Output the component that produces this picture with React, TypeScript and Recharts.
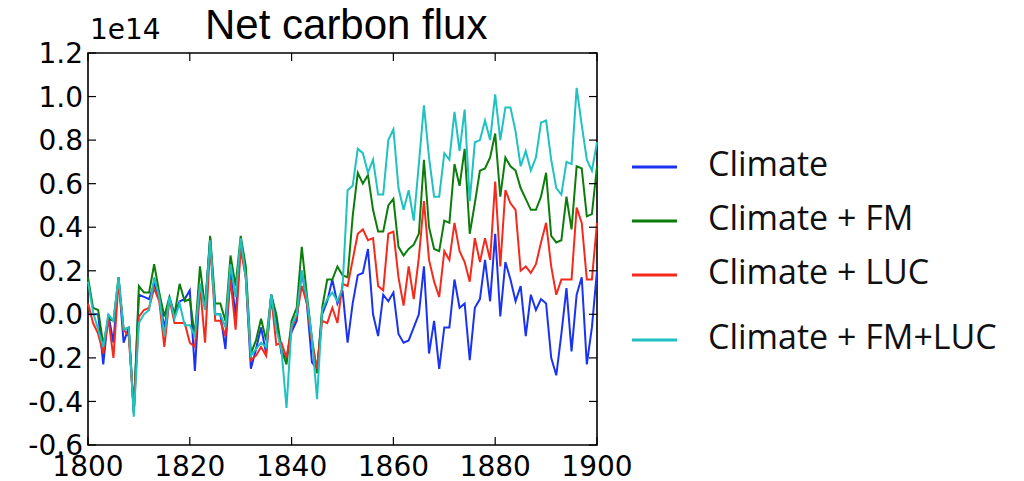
import { LineChart, Line, XAxis, YAxis, ReferenceArea, Legend } from "recharts";

// net carbon flux, units of 1e14, one value per year 1800..1900
const years = Array.from({ length: 101 }, (_, i) => 1800 + i);

const climate = [
  0.0, 0.0, 0.0, -0.23, 0.0, -0.13, 0.17, -0.13, -0.06, -0.45,
  0.09, 0.08, 0.07, 0.14, 0.07, -0.06, 0.07, 0.0, 0.06, 0.07,
  0.11, -0.26, 0.14, 0.03, 0.35, 0.0, 0.0, -0.16, 0.2, -0.01,
  0.33, 0.17, -0.25, -0.16, -0.06, -0.18, 0.09, -0.02, -0.18, -0.2,
  -0.08, -0.03, 0.2, 0.05, -0.22, -0.25, 0.0, 0.06, 0.16, 0.05,
  0.11, -0.13, 0.05, 0.18, 0.19, 0.3, 0.0, -0.1, 0.09, 0.06,
  0.1, -0.09, -0.13, -0.12, -0.06, 0.0, 0.22, -0.18, -0.03, -0.25,
  -0.06, -0.06, 0.16, 0.03, 0.05, -0.21, 0.03, 0.07, 0.25, 0.06,
  0.37, -0.01, 0.24, 0.16, 0.06, 0.13, -0.1, 0.09, 0.02, 0.07,
  0.05, -0.2, -0.28, -0.09, 0.12, -0.17, 0.09, 0.17, -0.23, -0.06,
  0.2,
];

const climateFM = [
  0.17, 0.03, 0.02, -0.14, -0.02, -0.03, 0.17, -0.07, -0.06, -0.45,
  0.13, 0.1, 0.1, 0.23, 0.1, -0.01, 0.08, 0.0, 0.14, 0.06,
  0.07, -0.1, 0.22, 0.03, 0.36, 0.05, 0.05, -0.03, 0.27, 0.13,
  0.36, 0.22, -0.18, -0.12, -0.02, -0.12, 0.09, 0.0, -0.16, -0.23,
  -0.03, 0.03, 0.31, 0.09, -0.11, -0.27, 0.03, 0.16, 0.16, 0.22,
  0.18, 0.17, 0.45, 0.65, 0.6, 0.64, 0.48, 0.38, 0.38, 0.5,
  0.53, 0.31, 0.27, 0.3, 0.32, 0.37, 0.71, 0.4, 0.3, 0.29,
  0.43, 0.42, 0.69, 0.59, 0.76, 0.37, 0.51, 0.66, 0.67, 0.72,
  0.83, 0.54, 0.72, 0.68, 0.66, 0.58, 0.53, 0.48, 0.48, 0.54,
  0.65, 0.36, 0.33, 0.34, 0.54, 0.39, 0.68, 0.67, 0.45, 0.46,
  0.68,
];

const climateLUC = [
  0.05, -0.04, -0.09, -0.18, -0.02, -0.2, 0.15, -0.07, -0.1, -0.44,
  -0.01, 0.02, 0.03, 0.12, 0.06, -0.15, 0.07, -0.04, -0.04, -0.04,
  -0.13, -0.15, 0.13, -0.13, 0.32, -0.03, -0.03, -0.1, 0.16, -0.07,
  0.3, 0.17, -0.21, -0.19, -0.15, -0.19, 0.08, -0.14, -0.13, -0.2,
  -0.06, -0.01, 0.13, 0.05, -0.13, -0.25, -0.03, -0.04, 0.03, -0.04,
  0.14, 0.13, 0.25, 0.37, 0.39, 0.34, 0.35, 0.13, 0.11, 0.37,
  0.38, 0.17, 0.04, 0.22, 0.07, 0.26, 0.52, 0.25, 0.15, 0.08,
  0.29, 0.25, 0.42, 0.29, 0.24, 0.15, 0.35, 0.24, 0.35, 0.25,
  0.61, 0.22, 0.57, 0.51, 0.48, 0.2, 0.22, 0.19, 0.23, 0.33,
  0.42, 0.22, 0.09, 0.16, 0.16, 0.16, 0.49, 0.42, 0.16, 0.16,
  0.42,
];

const climateFMLUC = [
  0.15, 0.01, -0.07, -0.15, 0.0, -0.03, 0.17, -0.07, -0.06, -0.47,
  -0.04, 0.0, 0.02, 0.17, 0.08, -0.1, 0.08, -0.02, 0.05, -0.05,
  -0.05, -0.1, 0.14, 0.02, 0.34, 0.0, 0.0, -0.06, 0.23, 0.08,
  0.35, 0.17, -0.19, -0.16, -0.13, -0.15, 0.09, -0.07, -0.16, -0.43,
  -0.05, 0.0, 0.2, 0.07, -0.11, -0.39, 0.02, 0.07, 0.1, 0.06,
  0.12, 0.57, 0.59, 0.76, 0.74, 0.65, 0.71, 0.55, 0.55, 0.8,
  0.85, 0.58, 0.48, 0.57, 0.43, 0.69, 0.96, 0.72, 0.54, 0.54,
  0.74, 0.71, 0.93, 0.75, 0.94, 0.52, 0.79, 0.8, 0.89, 0.8,
  1.01, 0.8, 0.95, 0.95, 0.84, 0.68, 0.75, 0.66, 0.72, 0.88,
  0.89, 0.71, 0.58, 0.55, 0.7, 0.69, 1.04, 0.87, 0.71, 0.66,
  0.79,
];

const xTicks = [1800, 1820, 1840, 1860, 1880, 1900];
const yTicks = [-0.6, -0.4, -0.2, 0, 0.2, 0.4, 0.6, 0.8, 1.0, 1.2];

const series = [
  { key: "climate", name: "Climate", color: "#1a33f0" },
  { key: "climateFM", name: "Climate + FM", color: "#0b7d0b" },
  { key: "climateLUC", name: "Climate + LUC", color: "#f42a1c" },
  { key: "climateFMLUC", name: "Climate + FM+LUC", color: "#1fc1c1" },
];

const rows = years.map((year, i) => ({
  year,
  climate: climate[i],
  climateFM: climateFM[i],
  climateLUC: climateLUC[i],
  climateFMLUC: climateFMLUC[i],
}));

const PLOT_LEFT = 88;
const PLOT_RIGHT = 597;
const PLOT_TOP = 53;
const PLOT_BOTTOM = 445;
const TICK_LEN = 8;
const tickFont = "'DejaVu Sans', sans-serif";

const YTick = (props: any) => {
  const { y, payload } = props;
  return (
    <g>
      <text x={PLOT_LEFT - 5} y={y} dy="0.36em" textAnchor="end" fontFamily={tickFont} fontSize={28} fill="#000">
        {Number(payload.value).toFixed(1)}
      </text>
      <line x1={PLOT_LEFT} x2={PLOT_LEFT + TICK_LEN} y1={y} y2={y} stroke="#000" strokeWidth={1.2} />
      <line x1={PLOT_RIGHT - TICK_LEN} x2={PLOT_RIGHT} y1={y} y2={y} stroke="#000" strokeWidth={1.2} />
    </g>
  );
};

const XTick = (props: any) => {
  const { x, payload } = props;
  return (
    <g>
      <text x={x} y={476} textAnchor="middle" fontFamily={tickFont} fontSize={28} fill="#000">
        {payload.value}
      </text>
      <line x1={x} x2={x} y1={PLOT_BOTTOM} y2={PLOT_BOTTOM - TICK_LEN} stroke="#000" strokeWidth={1.2} />
      <line x1={x} x2={x} y1={PLOT_TOP} y2={PLOT_TOP + TICK_LEN} stroke="#000" strokeWidth={1.2} />
    </g>
  );
};

const renderLegend = (props: any) => {
  const items = [...(props.payload || [])].sort(
    (a: any, b: any) =>
      series.findIndex((s) => s.name === a.value) - series.findIndex((s) => s.name === b.value)
  );
  const lineY = [47, 101, 155, 220];
  return (
    <svg width={404} height={250}>
      {items.map((it: any, i: number) => (
        <g key={it.value}>
          <line x1={12} x2={57} y1={lineY[i]} y2={lineY[i]} stroke={it.color} strokeWidth={3} />
          <text x={88} y={lineY[i] + 9} fontFamily="'Open Sans', sans-serif" fontSize={34} fill="#111">
            {it.value}
          </text>
        </g>
      ))}
    </svg>
  );
};

export default function App() {
  return (
    <div style={{ position: "absolute", left: 0, top: 0, width: 1024, height: 481, background: "#fff" }}>
      <LineChart
        width={1024}
        height={481}
        data={rows}
        margin={{ top: PLOT_TOP, right: 1024 - PLOT_RIGHT, bottom: 0, left: 28 }}
      >
        <XAxis
          dataKey="year"
          type="number"
          domain={[1800, 1900]}
          ticks={xTicks}
          height={481 - PLOT_BOTTOM}
          tick={<XTick />}
          tickLine={false}
          axisLine={false}
          interval={0}
        />
        <YAxis
          type="number"
          domain={[-0.6, 1.2]}
          ticks={yTicks}
          width={PLOT_LEFT - 28}
          tick={<YTick />}
          tickLine={false}
          axisLine={false}
          interval={0}
          allowDataOverflow
        />
        {series.map((s) => (
          <Line
            key={s.key}
            type="linear"
            dataKey={s.key}
            name={s.name}
            stroke={s.color}
            strokeWidth={2}
            dot={false}
            isAnimationActive={false}
          />
        ))}
        <ReferenceArea x1={1800} x2={1900} y1={-0.6} y2={1.2} fill="none" stroke="#000" strokeWidth={1.6} />
        <Legend
          layout="vertical"
          align="center"
          verticalAlign="middle"
          content={renderLegend}
          wrapperStyle={{ left: 620, top: 120, width: 404, height: 250 }}
        />
      </LineChart>
      <div
        style={{
          position: "absolute",
          left: 205,
          top: 3,
          fontFamily: "'Liberation Sans', Arial, sans-serif",
          fontSize: 42,
          lineHeight: "44px",
          color: "#000",
          whiteSpace: "nowrap",
        }}
      >
        Net carbon flux
      </div>
      <div
        style={{
          position: "absolute",
          left: 90,
          top: 14,
          fontFamily: tickFont,
          fontSize: 28,
          lineHeight: "32px",
          color: "#000",
        }}
      >
        1e14
      </div>
    </div>
  );
}
